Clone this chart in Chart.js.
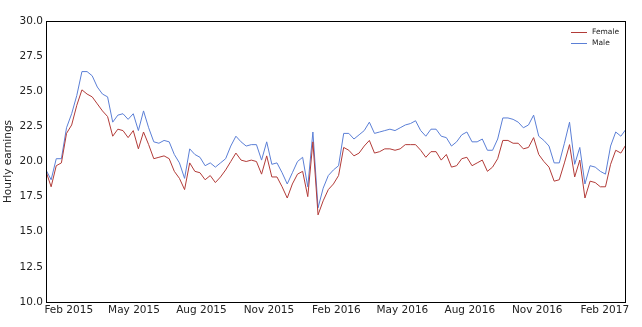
<!DOCTYPE html>
<html>
<head>
<meta charset="utf-8">
<script src="https://cdn.jsdelivr.net/npm/chart.js@4/dist/chart.umd.min.js"></script>
<style>
  html, body { margin: 0; padding: 0; background: #ffffff; }
  #wrap { width: 642px; height: 327px; }
</style>
</head>
<body>
<div id="wrap"><canvas id="c" width="642" height="327"></canvas></div>
<script>
// Weekly observations (week starting date)
const weeks = [
  '2015-01-01','2015-01-08','2015-01-15','2015-01-22','2015-01-29','2015-02-05','2015-02-12','2015-02-19','2015-02-26',
  '2015-03-05','2015-03-12','2015-03-19','2015-03-26','2015-04-02','2015-04-09','2015-04-16','2015-04-23','2015-04-30',
  '2015-05-07','2015-05-14','2015-05-21','2015-05-28','2015-06-04','2015-06-11','2015-06-18','2015-06-25','2015-07-02',
  '2015-07-09','2015-07-16','2015-07-23','2015-07-30','2015-08-06','2015-08-13','2015-08-20','2015-08-27','2015-09-03',
  '2015-09-10','2015-09-17','2015-09-24','2015-10-01','2015-10-08','2015-10-15','2015-10-22','2015-10-29','2015-11-05',
  '2015-11-12','2015-11-19','2015-11-26','2015-12-03','2015-12-10','2015-12-17','2015-12-24','2015-12-31',
  '2016-01-07','2016-01-14','2016-01-21','2016-01-28','2016-02-04','2016-02-11','2016-02-18','2016-02-25','2016-03-03',
  '2016-03-10','2016-03-17','2016-03-24','2016-03-31','2016-04-07','2016-04-14','2016-04-21','2016-04-28','2016-05-05',
  '2016-05-12','2016-05-19','2016-05-26','2016-06-02','2016-06-09','2016-06-16','2016-06-23','2016-06-30','2016-07-07',
  '2016-07-14','2016-07-21','2016-07-28','2016-08-04','2016-08-11','2016-08-18','2016-08-25','2016-09-01','2016-09-08',
  '2016-09-15','2016-09-22','2016-09-29','2016-10-06','2016-10-13','2016-10-20','2016-10-27','2016-11-03','2016-11-10',
  '2016-11-17','2016-11-24','2016-12-01','2016-12-08','2016-12-15','2016-12-22','2016-12-29',
  '2017-01-05','2017-01-12','2017-01-19','2017-01-26','2017-02-02','2017-02-09','2017-02-16','2017-02-23','2017-03-02'
];

// Average hourly earnings
const female = [
  19.3, 18.2, 19.7, 19.9, 22.0, 22.6, 24.0, 25.1, 24.8, 24.6,
  24.1, 23.6, 23.2, 21.8, 22.3, 22.2, 21.7, 22.2, 20.9, 22.1,
  21.2, 20.2, 20.3, 20.4, 20.2, 19.3, 18.8, 18.0, 19.9, 19.3,
  19.2, 18.7, 19.0, 18.5, 18.9, 19.4, 20.0, 20.6, 20.1, 20.0,
  20.1, 20.0, 19.1, 20.4, 18.9, 18.9, 18.2, 17.4, 18.4, 19.1,
  19.3, 17.5, 21.4, 16.2, 17.2, 18.0, 18.4, 19.0, 21.0, 20.8,
  20.4, 20.6, 21.1, 21.5, 20.6, 20.7, 20.9, 20.9, 20.8, 20.9,
  21.2, 21.2, 21.2, 20.8, 20.3, 20.7, 20.7, 20.1, 20.5, 19.6,
  19.7, 20.2, 20.3, 19.7, 19.9, 20.1, 19.3, 19.6, 20.2, 21.5,
  21.5, 21.3, 21.3, 20.9, 21.0, 21.7, 20.5, 20.0, 19.6, 18.6,
  18.7, 19.9, 21.2, 18.9, 20.1, 17.4, 18.6, 18.5, 18.2, 18.2,
  19.8, 20.8, 20.6, 21.2
];
const male = [
  19.4, 18.7, 20.2, 20.2, 22.4, 23.4, 24.7, 26.4, 26.4, 26.1,
  25.3, 24.8, 24.6, 22.8, 23.3, 23.4, 23.0, 23.4, 22.2, 23.6,
  22.4, 21.4, 21.3, 21.5, 21.4, 20.5, 19.9, 18.8, 20.9, 20.5,
  20.3, 19.7, 19.9, 19.6, 19.9, 20.2, 21.1, 21.8, 21.4, 21.1,
  21.2, 21.2, 20.1, 21.4, 19.8, 19.9, 19.2, 18.4, 19.2, 20.0,
  20.3, 18.2, 22.1, 16.7, 18.1, 19.0, 19.4, 19.7, 22.0, 22.0,
  21.6, 21.9, 22.2, 22.8, 22.0, 22.1, 22.2, 22.3, 22.2, 22.4,
  22.6, 22.7, 22.9, 22.2, 21.8, 22.3, 22.3, 21.8, 21.7, 21.1,
  21.4, 21.9, 22.1, 21.4, 21.4, 21.6, 20.8, 20.8, 21.6, 23.1,
  23.1, 23.0, 22.8, 22.4, 22.6, 23.3, 21.8, 21.5, 21.1, 19.9,
  19.9, 21.3, 22.8, 19.8, 21.0, 18.4, 19.7, 19.6, 19.3, 19.1,
  21.1, 22.1, 21.8, 22.3
];

// Date axis ticks
const tickDates = ['2015-02-01','2015-05-01','2015-08-01','2015-11-01','2016-02-01','2016-05-01','2016-08-01','2016-11-01','2017-02-01'];
const tickLabels = ['Feb 2015','May 2015','Aug 2015','Nov 2015','Feb 2016','May 2016','Aug 2016','Nov 2016','Feb 2017'];

const seriesNames = ['Female', 'Male'];
const seriesColors = ['#b23b38', '#5b7fd6'];

const dayNum = s => Date.parse(s + 'T00:00:00Z') / 86400000;
const xs = weeks.map(dayNum);
const tickDays = tickDates.map(dayNum);

const FONT = "'DejaVu Sans', sans-serif";

// Frame around the plot area plus an inset legend
const framePlugin = {
  id: 'frame',
  afterDraw(chart) {
    const { ctx, chartArea: a } = chart;
    ctx.save();
    ctx.strokeStyle = '#000';
    ctx.lineWidth = 1;
    ctx.strokeRect(Math.round(a.left) + 0.5, Math.round(a.top) + 0.5,
                   Math.round(a.right - a.left) - 1, Math.round(a.bottom - a.top));
    // legend
    ctx.font = '7.5px ' + FONT;
    ctx.textBaseline = 'middle';
    ctx.fillStyle = '#222';
    chart.data.datasets.forEach((ds, i) => {
      const y = 32.5 + i * 11;
      ctx.strokeStyle = ds.borderColor;
      ctx.beginPath();
      ctx.moveTo(571, y);
      ctx.lineTo(587, y);
      ctx.stroke();
      ctx.fillText(ds.label, 592, y);
    });
    ctx.restore();
  }
};

new Chart(document.getElementById('c'), {
  type: 'line',
  data: {
    datasets: [female, male].map((vals, k) => ({
      label: seriesNames[k],
      data: vals.map((v, i) => ({ x: xs[i], y: v })),
      borderColor: seriesColors[k],
      borderWidth: 1,
      pointRadius: 0,
      tension: 0,
      fill: false
    }))
  },
  options: {
    responsive: false,
    animation: false,
    devicePixelRatio: 1,
    layout: { padding: { left: 0, right: 16, top: 21, bottom: 0 } },
    plugins: { legend: { display: false }, tooltip: { enabled: false } },
    scales: {
      x: {
        type: 'linear',
        min: xs[0],
        max: xs[xs.length - 1],
        grid: { display: false, drawTicks: false },
        border: { display: false },
        afterBuildTicks: s => { s.ticks = tickDays.map(v => ({ value: v })); },
        afterFit: s => { s.height = 25; },
        ticks: {
          autoSkip: false,
          maxRotation: 0,
          padding: 2,
          color: '#222',
          font: { family: FONT, size: 10.5 },
          callback: (v) => { const i = tickDays.indexOf(v); return i >= 0 ? tickLabels[i] : ''; }
        }
      },
      y: {
        min: 10,
        max: 30,
        grid: { display: false, drawTicks: false },
        border: { display: false },
        afterFit: s => { s.width = 46; },
        ticks: {
          stepSize: 2.5,
          padding: 3,
          color: '#222',
          font: { family: FONT, size: 10.5 },
          callback: v => v.toFixed(1)
        },
        title: {
          display: true,
          text: 'Hourly earnings',
          color: '#222',
          font: { family: FONT, size: 10.5 },
          padding: { top: 2, bottom: 4 }
        }
      }
    }
  },
  plugins: [framePlugin]
});
</script>
</body>
</html>
